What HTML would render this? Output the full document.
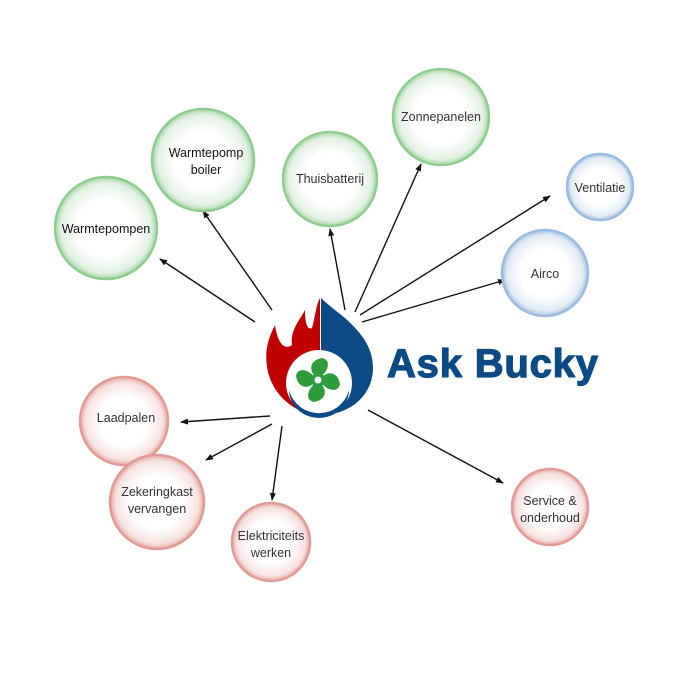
<!DOCTYPE html>
<html><head><meta charset="utf-8"><style>
html,body{margin:0;padding:0;background:#fff;}
svg{display:block;}
text{font-family:"Liberation Sans",sans-serif;font-size:12.5px;fill:#333;}
</style></head><body>
<svg width="690" height="690" viewBox="0 0 690 690">
<defs>
<radialGradient id="gG"><stop offset="0.55" stop-color="#fff"/><stop offset="0.88" stop-color="#e3f1e3"/><stop offset="1" stop-color="#a8d6a8"/></radialGradient>
<radialGradient id="gB"><stop offset="0.55" stop-color="#fff"/><stop offset="0.88" stop-color="#e2ebf5"/><stop offset="1" stop-color="#a9c3e0"/></radialGradient>
<radialGradient id="gR"><stop offset="0.55" stop-color="#fff"/><stop offset="0.88" stop-color="#f6e2e0"/><stop offset="1" stop-color="#e3aaa5"/></radialGradient>
<marker id="ar" markerWidth="8" markerHeight="8" refX="7" refY="4" orient="auto" markerUnits="userSpaceOnUse"><path d="M0,1 L8,4 L0,7 z" fill="#111"/></marker>
</defs>
<g stroke="#111" stroke-width="1.4" marker-end="url(#ar)">
<line x1="255" y1="322" x2="160" y2="259"/>
<line x1="272" y1="310" x2="203" y2="211"/>
<line x1="345" y1="310" x2="330" y2="229"/>
<line x1="355" y1="312" x2="421" y2="164"/>
<line x1="360" y1="315" x2="550" y2="196"/>
<line x1="362" y1="322" x2="505" y2="280"/>
<line x1="270" y1="416" x2="181" y2="422"/>
<line x1="272" y1="424" x2="206" y2="460"/>
<line x1="282" y1="426" x2="272" y2="500"/>
<line x1="368" y1="410" x2="503" y2="483"/>
</g>
<g stroke-width="2.5">
<circle cx="106" cy="228" r="51" fill="url(#gG)" stroke="#8fcc8f"/>
<circle cx="203" cy="160" r="51" fill="url(#gG)" stroke="#8fcc8f"/>
<circle cx="330" cy="179" r="47" fill="url(#gG)" stroke="#8fcc8f"/>
<circle cx="441" cy="117" r="48" fill="url(#gG)" stroke="#8fcc8f"/>
<circle cx="600" cy="187" r="33" fill="url(#gB)" stroke="#9bbbe0"/>
<circle cx="545" cy="273" r="43" fill="url(#gB)" stroke="#9bbbe0"/>
<circle cx="124" cy="421" r="44" fill="url(#gR)" stroke="#e29a94"/>
<circle cx="157" cy="502" r="47" fill="url(#gR)" stroke="#e29a94"/>
<circle cx="271" cy="542" r="39" fill="url(#gR)" stroke="#e29a94"/>
<circle cx="550" cy="507" r="38" fill="url(#gR)" stroke="#e29a94"/>
</g>
<g text-anchor="middle">
<text x="106" y="233" style="fill:#111">Warmtepompen</text>
<text x="206" y="157" style="fill:#111">Warmtepomp</text>
<text x="206" y="174" style="fill:#111">boiler</text>
<text x="330" y="183">Thuisbatterij</text>
<text x="441" y="121">Zonnepanelen</text>
<text x="600" y="192">Ventilatie</text>
<text x="545" y="278">Airco</text>
<text x="126" y="422">Laadpalen</text>
<text x="157" y="496">Zekeringkast</text>
<text x="157" y="513">vervangen</text>
<text x="271" y="540">Elektriciteits</text>
<text x="271" y="557">werken</text>
<text x="550" y="505">Service &amp;</text>
<text x="550" y="522">onderhoud</text>
</g>
<!-- logo -->
<path d="M320,298 L320,415 C300,415 275,400 268,372 C263,350 270,335 275,325 C278,345 285,350 292,345 C290,330 300,320 305,310 C305,325 308,330 312,328 C315,318 316,305 320,298 Z" fill="#c00000"/>
<path d="M321,298 L321,415 C350,415 373,395 373,368 C373,345 358,330 345,318 C335,310 326,303 321,298 Z" fill="#0b4a84"/>
<circle cx="319" cy="383" r="33" fill="#fff"/>
<path d="M289,390 A31,31 0 0 0 349,390 A29,27 0 0 1 289,390 Z" fill="#0b4a84"/>
<g fill="#2e9b3c" transform="translate(318,380)">
<path d="M-2,-3 C-10,-10 -8,-20 4,-22 C14,-20 10,-8 2,-3Z"/>
<path d="M3,-2 C10,-10 20,-8 22,4 C20,14 8,10 3,2Z"/>
<path d="M2,3 C10,10 8,20 -4,22 C-14,20 -10,8 -2,3Z"/>
<path d="M-3,2 C-10,10 -20,8 -22,-4 C-20,-14 -8,-10 -3,-2Z"/>
<circle r="7"/>
<circle r="3.5" fill="#fff"/>
</g>
<text x="387" y="377" style="font-family:'Liberation Sans',sans-serif;font-weight:bold;font-size:40px;fill:#0b4a84;stroke:#0b4a84;stroke-width:1.2;letter-spacing:0.8px">Ask Bucky</text>
</svg>
</body></html>
